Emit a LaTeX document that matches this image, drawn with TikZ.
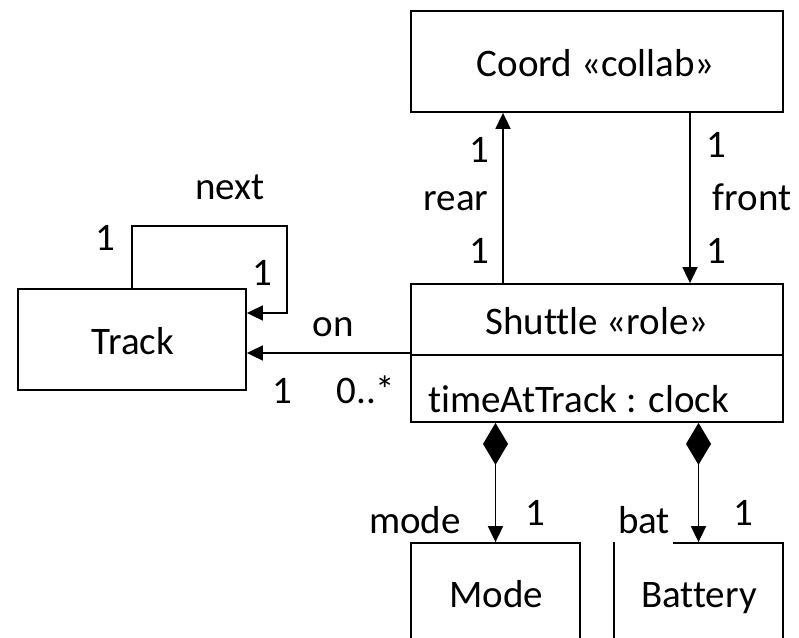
\documentclass[tikz,border=0pt]{standalone}
\usepackage{fontspec}
\setmainfont[Ligatures=NoCommon]{Carlito}
\usetikzlibrary{arrows.meta}
\begin{document}
\begin{tikzpicture}[x=1pt,y=-1pt,
  every node/.style={font=\fontsize{39}{45}\selectfont, inner sep=0pt},
  txt/.style={anchor=base},
  umlbox/.style={draw, line width=1.8pt, minimum width=#1, anchor=center},
  assoc/.style={line width=1.8pt, -{Triangle[length=16pt,width=15pt]}},
  compo/.style={line width=1.8pt, {Diamond[length=42pt,width=25pt]}-{Triangle[length=16pt,width=15pt]}}]
\useasboundingbox (0,0) rectangle (799,637);
\clip (0,0) rectangle (799,637);

% class boxes
\node[umlbox=372pt, minimum height=101pt] (coord) at (597,61.5) {};
\node[umlbox=372pt, minimum height=138pt] (shuttle) at (597,353) {};
\draw[line width=1.8pt] (shuttle.west |- 0,355) -- (shuttle.east |- 0,355);
\node[umlbox=228pt, minimum height=101pt] (track) at (132,339.5) {};
\node[umlbox=169pt, minimum height=108pt] (mode) at (495.5,597) {};
\node[umlbox=169pt, minimum height=108pt] (battery) at (698.5,597) {};

% class names and attributes
\node[txt] (coordname) at (596,76) {Coord «collab»};
\node[txt] (shuttlename) at (597,334) {Shuttle «role»};
\node[txt] (shuttleattr) at (578.5,412) {timeAtTrack : clock};
\node[txt] (trackname) at (133,354) {Track};
\node[txt] (modename) at (496,607) {Mode};
\node[txt] (batteryname) at (699,607) {Battery};

% associations
\coordinate (loopcorner) at (287,226);
\draw[assoc] (track.north) |- (loopcorner) |- ([yshift=26.5pt]track.east);
\draw[assoc] (shuttle.west) -- (shuttle.west -| track.east);
\draw[assoc] ([xshift=-94pt]shuttle.north) -- ([xshift=-94pt]coord.south);
\draw[assoc] ([xshift=93pt]coord.south) -- ([xshift=93pt]shuttle.north);
\draw[compo] (shuttle.south -| mode.north) -- (mode.north);
\draw[compo] (shuttle.south -| battery.north) -- (battery.north);

% role names and multiplicities
\node[txt] (nextrole) at (230,199) {next};
\node[txt] (nextsrc) at (105,250) {1};
\node[txt] (nexttgt) at (262,285) {1};
\node[txt] (onrole) at (333,336) {on};
\node[txt] (ontgt) at (282,403) {1};
\node[txt] (onsrc) at (366,403) {0..*};
\node[txt] (reartgt) at (479,162) {1};
\node[txt] (rearrole) at (456,210) {rear};
\node[txt] (rearsrc) at (479,263) {1};
\node[txt] (frontsrc) at (716,157) {1};
\node[txt] (frontrole) at (752,210) {front};
\node[txt] (fronttgt) at (716,263) {1};
\node[txt] (moderole) at (415,533) {mode};
\node[txt] (modemult) at (535,525) {1};
\node[txt, fill=white, inner xsep=3pt, inner ysep=1pt, text depth=12pt] (batrole) at (644,533) {bat};
\node[txt] (batmult) at (743,525) {1};
\end{tikzpicture}
\end{document}
